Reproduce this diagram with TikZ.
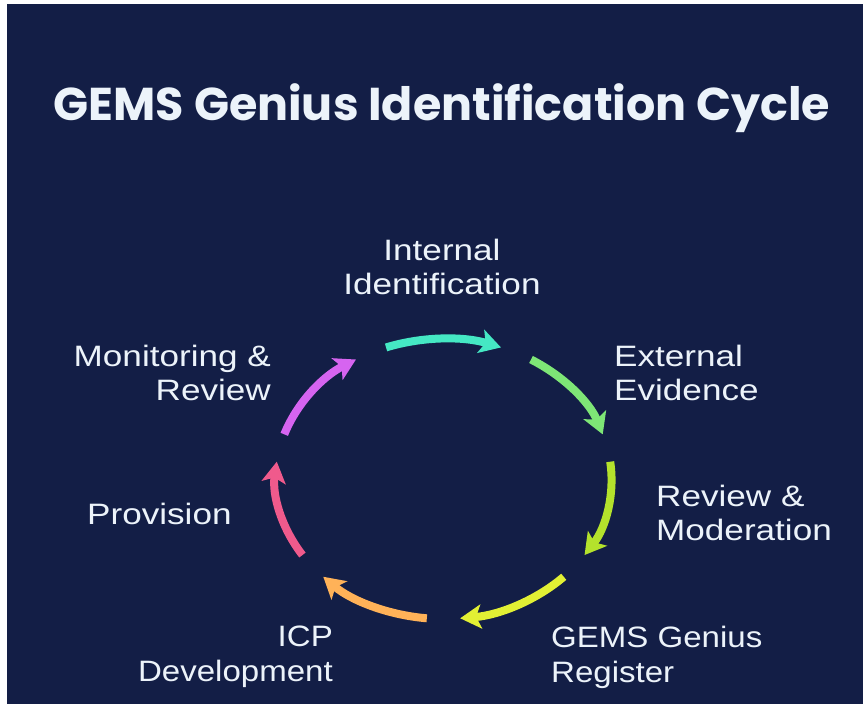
\documentclass[tikz,border=0pt]{standalone}
\usepackage{fontspec}
\usetikzlibrary{arrows.meta,calc}
\newfontfamily\labelfont[FakeStretch=1.19]{Liberation Sans}
\newfontfamily\narrowlabelfont[FakeStretch=1.12]{Liberation Sans}
\newfontfamily\titlefont{Poppins}
\definecolor{navybg}{RGB}{19,30,70}
\definecolor{labeltext}{RGB}{236,243,250}
\definecolor{segteal}{RGB}{69,232,196}
\definecolor{seggreen}{RGB}{126,230,118}
\definecolor{seglime}{RGB}{180,226,44}
\definecolor{segyellow}{RGB}{226,240,52}
\definecolor{segorange}{RGB}{255,178,88}
\definecolor{segpink}{RGB}{240,90,140}
\definecolor{segmagenta}{RGB}{214,100,240}
\tikzset{
  segment/.style={line width=8pt, -{Stealth[length=21pt, width=24pt, inset=5pt]}},
  steplabel/.style={text=labeltext, inner sep=0pt, font=\labelfont\fontsize{29.5}{34}\selectfont},
  bottomlabel/.style={steplabel, font=\narrowlabelfont\fontsize{29.5}{35}\selectfont}
}
\begin{document}
\begin{tikzpicture}[x=1pt, y=1pt]
        % Definiciones
        \def\rx{168}
        \def\ry{140}
        \useasboundingbox (0,0) rectangle (865,704);
        % Fondo
        \fill[navybg] (7,0) rectangle (863,700);
        % Titulo
        \node[text=labeltext, anchor=base, font=\titlefont\bfseries\fontsize{46}{52}\selectfont] (title) at (442,583) {GEMS Genius Identification Cycle};
        % Centro del ciclo
        \coordinate (c) at (443.5,225);
        \coordinate (s1) at ($(c)+(110:{\rx} and {\ry})$);
        \coordinate (s2) at ($(c)+(58.6:{\rx} and {\ry})$);
        \coordinate (s3) at ($(c)+(7.1:{\rx} and {\ry})$);
        \coordinate (s4) at ($(c)+(-44.3:{\rx} and {\ry})$);
        \coordinate (s5) at ($(c)+(-95.7:{\rx} and {\ry})$);
        \coordinate (s6) at ($(c)+(-147.1:{\rx} and {\ry})$);
        \coordinate (s7) at ($(c)+(161.4:{\rx} and {\ry})$);
        % Arcos del ciclo
        \draw[segment, segteal] (s1) arc[start angle=110, end angle=70, x radius=\rx, y radius=\ry];
        \draw[segment, seggreen] (s2) arc[start angle=58.6, end angle=18.6, x radius=\rx, y radius=\ry];
        \draw[segment, seglime] (s3) arc[start angle=7.1, end angle=-32.9, x radius=\rx, y radius=\ry];
        \draw[segment, segyellow] (s4) arc[start angle=-44.3, end angle=-84.3, x radius=\rx, y radius=\ry];
        \draw[segment, segorange] (s5) arc[start angle=-95.7, end angle=-135.7, x radius=\rx, y radius=\ry];
        \draw[segment, segpink] (s6) arc[start angle=-147.1, end angle=-187.1, x radius=\rx, y radius=\ry];
        \draw[segment, segmagenta] (s7) arc[start angle=161.4, end angle=121.4, x radius=\rx, y radius=\ry];
        % Etiquetas
        \node[steplabel, anchor=north, align=center] (internal) at (442,465) {Internal\\Identification};
        \node[steplabel, anchor=north west, align=left] (external) at (614,359) {External\\Evidence};
        \node[steplabel, anchor=north west, align=left] (review) at (656,219) {Review \&\\Moderation};
        \node[bottomlabel, anchor=north west, align=left] (register) at (551,78) {GEMS Genius\\Register};
        \node[bottomlabel, anchor=north east, align=right] (icp) at (333,78) {ICP\\Development};
        \node[steplabel, anchor=north west] (provision) at (87,201) {Provision};
        \node[steplabel, anchor=north east, align=right] (monitoring) at (271,359) {Monitoring \&\\Review};
\end{tikzpicture}
\end{document}
